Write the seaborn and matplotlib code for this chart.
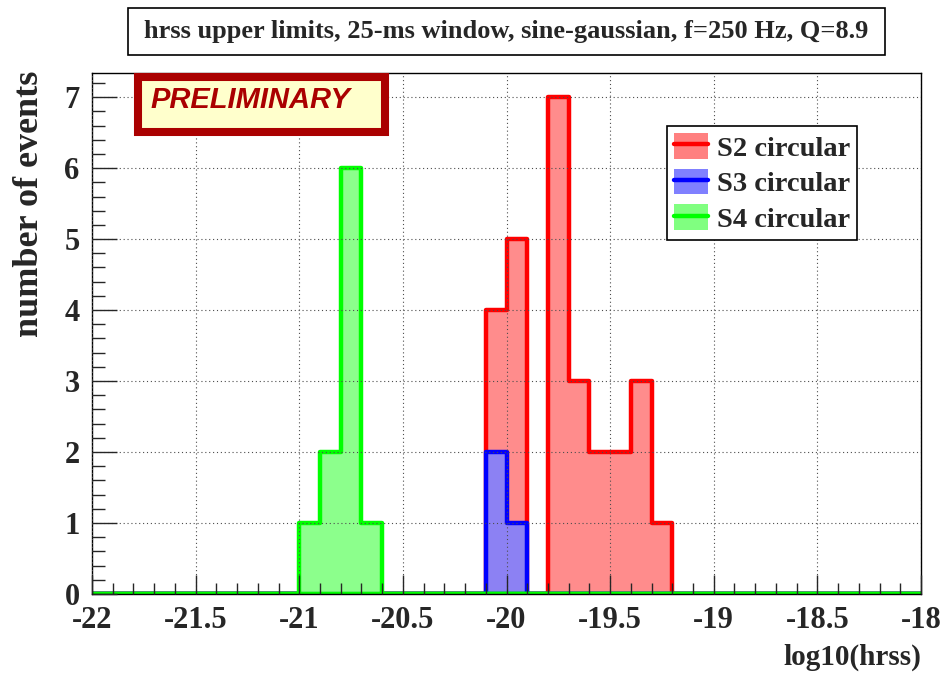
import numpy as np
import matplotlib
matplotlib.use("Agg")
import matplotlib.pyplot as plt
from matplotlib.patches import Rectangle, Patch
from matplotlib.lines import Line2D
from matplotlib.ticker import MultipleLocator, FormatStrFormatter
import seaborn as sns

# bin centres (log10 hrss) and number of events per 0.1-wide bin
s2_hrss = [-20.05, -19.95, -19.75, -19.65, -19.55, -19.45, -19.35, -19.25]
s2_counts = [4, 5, 7, 3, 2, 2, 3, 1]
s3_hrss = [-20.05, -19.95]
s3_counts = [2, 1]
s4_hrss = [-20.95, -20.85, -20.75, -20.65]
s4_counts = [1, 2, 6, 1]

labels = ["S2 circular", "S3 circular", "S4 circular"]
colors = ["#ff0000", "#0000ff", "#00ff00"]
fills = ["#ff8080", "#8080ff", "#80ff80"]

sns.set_style("ticks")
plt.rcParams["font.family"] = ["Liberation Serif", "DejaVu Serif"]
plt.rcParams["font.weight"] = "bold"
plt.rcParams["axes.unicode_minus"] = False

W, H = 945, 677
fig = plt.figure(figsize=(W / 100, H / 100), dpi=100)
ax = fig.add_axes([92 / W, 1 - 594 / H, 829 / W, 521 / H])

# draw order as in the original: S2, S3, then S4 on top
series = [(s2_hrss, s2_counts), (s3_hrss, s3_counts), (s4_hrss, s4_counts)]
for (x, w), c, f in zip(series, colors, fills):
    sns.histplot(x=x, weights=w, bins=40, binrange=(-22, -18), element="step",
                 fill=True, color=f, alpha=0.9, edgecolor=c, linewidth=3.2, ax=ax)

ax.set_xlim(-22, -18)
ax.set_ylim(0, 7.34)
ax.xaxis.set_major_locator(MultipleLocator(0.5))
ax.xaxis.set_minor_locator(MultipleLocator(0.1))
ax.yaxis.set_major_locator(MultipleLocator(1))
ax.yaxis.set_minor_locator(MultipleLocator(0.2))
ax.xaxis.set_major_formatter(FormatStrFormatter("%g"))
ax.tick_params(which="both", direction="in", top=False, right=False,
               labelsize=22, width=1)
ax.tick_params(axis="y", which="major", length=18, pad=9)
ax.tick_params(axis="y", which="minor", length=9)
ax.tick_params(axis="x", which="major", length=14, pad=9)
ax.tick_params(axis="x", which="minor", length=8)
for t in ax.get_xticklabels() + ax.get_yticklabels():
    t.set_fontweight("bold")
# grid drawn over the fills, as the dotted lines show through in the original
ax.grid(True, which="major", color="0.3", linestyle=(0, (1, 2.5)), linewidth=0.8)
ax.set_axisbelow(False)
for s in ax.spines.values():
    s.set_color("black")
    s.set_linewidth(1)

ax.set_ylabel("number of events", fontsize=26, fontweight="bold", loc="top")
ax.yaxis.set_label_coords(-0.056, 1.005)
ax.set_xlabel("log10(hrss)", fontsize=21, fontweight="bold", loc="right")
ax.xaxis.set_label_coords(1.0, -0.095)

# legend: filled box with line through it
handles = [(Patch(facecolor=f, edgecolor="none"),
            Line2D([], [], color=c, linewidth=3.2)) for c, f in zip(colors, fills)]
leg = ax.legend(handles, labels, loc="upper left",
                bbox_to_anchor=(667 / W, 1 - 126 / H), bbox_transform=fig.transFigure,
                fancybox=False, framealpha=1, edgecolor="black",
                prop={"size": 20.5, "weight": "bold"},
                handlelength=1.2, handleheight=1.0, handletextpad=0.3,
                labelspacing=0.25, borderpad=0.25, borderaxespad=0)
leg.get_frame().set_linewidth(1.2)
leg.set_zorder(10)

# title box
fig.patches.append(Rectangle((128 / W, 1 - 55 / H), 757 / W, 47 / H,
                             transform=fig.transFigure, facecolor="white",
                             edgecolor="black", linewidth=1.2))
fig.text(506 / W, 1 - 31.5 / H, "hrss upper limits, 25-ms window, sine-gaussian, f=250 Hz, Q=8.9",
         ha="center", va="center", fontsize=19, fontweight="bold")

# PRELIMINARY stamp
fig.patches.append(Rectangle((138 / W, 1 - 132 / H), 247 / W, 55 / H,
                             transform=fig.transFigure, facecolor="#ffffcc",
                             edgecolor="#aa0000", linewidth=5.8, zorder=5))
fig.text(150 / W, 1 - 100 / H, "PRELIMINARY", ha="left", va="center",
         fontsize=21, fontweight="bold", fontstyle="italic", color="#aa0000",
         family=["Liberation Sans", "DejaVu Sans"], zorder=6)

fig.savefig("out.png", dpi=100)
